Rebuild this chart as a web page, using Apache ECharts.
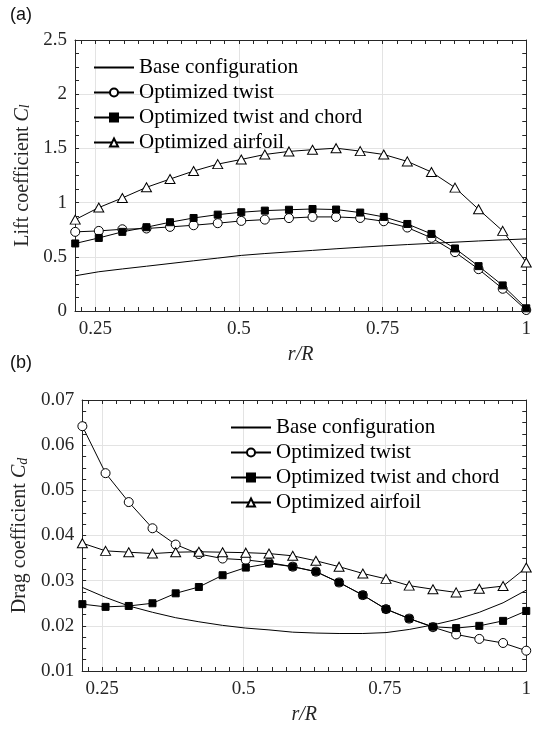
<!DOCTYPE html>
<html><head><meta charset="utf-8">
<script src="https://cdn.jsdelivr.net/npm/echarts@6/dist/echarts.min.js"></script>
<style>html,body{margin:0;padding:0;background:#fff}#c{width:534px;height:730px}</style>
</head><body><div id="c"></div><script>
// ---- data ----
const rR = [0.215, 0.256, 0.297, 0.339, 0.380, 0.421, 0.463, 0.504, 0.545, 0.587,
            0.628, 0.669, 0.711, 0.752, 0.793, 0.835, 0.876, 0.917, 0.959, 1.0];
const seriesNames = ['Base configuration', 'Optimized twist', 'Optimized twist and chord', 'Optimized airfoil'];
// Lift coefficient
const clBase    = [0.325, 0.362, 0.388, 0.413, 0.438, 0.463, 0.488, 0.513, 0.530, 0.545,
                   0.559, 0.574, 0.588, 0.601, 0.613, 0.624, 0.635, 0.646, 0.656, 0.665];
const clTwist   = [0.730, 0.739, 0.754, 0.761, 0.776, 0.791, 0.810, 0.831, 0.843, 0.857,
                   0.868, 0.868, 0.858, 0.828, 0.770, 0.675, 0.543, 0.386, 0.205, 0.009];
const clChord   = [0.623, 0.674, 0.730, 0.773, 0.819, 0.858, 0.889, 0.911, 0.926, 0.934,
                   0.941, 0.936, 0.908, 0.868, 0.803, 0.711, 0.577, 0.414, 0.236, 0.025];
const clAirfoil = [0.843, 0.954, 1.043, 1.141, 1.217, 1.291, 1.355, 1.398, 1.444, 1.472,
                   1.488, 1.502, 1.475, 1.444, 1.380, 1.282, 1.138, 0.938, 0.739, 0.448];
// Drag coefficient
const cdBase    = [0.0285, 0.0263, 0.0244, 0.0230, 0.0218, 0.0209, 0.0201, 0.0195, 0.0191, 0.0186,
                   0.0184, 0.0183, 0.0183, 0.0185, 0.0192, 0.0202, 0.0214, 0.0230, 0.0251, 0.0279];
const cdTwist   = [0.0642, 0.0538, 0.0474, 0.0416, 0.0380, 0.0359, 0.0349, 0.0346, 0.0340, 0.0331,
                   0.0320, 0.0296, 0.0268, 0.0237, 0.0216, 0.0197, 0.0181, 0.0171, 0.0162, 0.0145];
const cdChord   = [0.0248, 0.0242, 0.0244, 0.0250, 0.0272, 0.0286, 0.0312, 0.0329, 0.0338, 0.0331,
                   0.0320, 0.0296, 0.0268, 0.0237, 0.0216, 0.0198, 0.0195, 0.0200, 0.0211, 0.0233];
const cdAirfoil = [0.0383, 0.0366, 0.0363, 0.0360, 0.0363, 0.0364, 0.0363, 0.0362, 0.0360, 0.0355,
                   0.0344, 0.0331, 0.0316, 0.0304, 0.0289, 0.0281, 0.0274, 0.0282, 0.0288, 0.0329];
// ticks
const xTickLabels = [0.25, 0.5, 0.75, 1];
const xMinorTicks = [];
for (let k = 9; k <= 40; k++) xMinorTicks.push(+(k * 0.025).toFixed(3));
const X_MIN = 0.2146, X_MAX = 1;

// ---- style ----
const AX = '#262626';
const TK = '#262626';
const TL = 4;
const GRIDC = '#e3e3e3';
const SERIF = 'Liberation Serif';

const chart = echarts.init(document.getElementById('c'), null, {renderer: 'canvas'});

function xAxes(gi) {
  const base = {gridIndex: gi, type: 'value', min: X_MIN, max: X_MAX};
  return [
    Object.assign({}, base, {
      position: 'bottom',
      axisLine: {show: true, onZero: false, lineStyle: {color: AX, width: 1}},
      axisTick: {show: false, customValues: xTickLabels},
      axisLabel: {customValues: xTickLabels, fontFamily: SERIF, fontSize: 19, color: AX, margin: 9},
      splitLine: {show: true, lineStyle: {color: GRIDC, width: 1}},
      name: 'r/R', nameLocation: 'middle', nameGap: 34,
      nameTextStyle: {fontFamily: SERIF, fontSize: 20, fontStyle: 'italic', color: AX}
    }),
    Object.assign({}, base, {
      position: 'bottom',
      axisLine: {show: false, onZero: false},
      axisTick: {show: true, inside: true, length: TL, customValues: xMinorTicks, lineStyle: {color: TK}},
      axisLabel: {show: false},
      splitLine: {show: false}
    }),
    Object.assign({}, base, {
      position: 'top',
      axisLine: {show: true, onZero: false, lineStyle: {color: AX, width: 1}},
      axisTick: {show: true, inside: true, length: TL, customValues: xMinorTicks, lineStyle: {color: TK}},
      axisLabel: {show: false},
      splitLine: {show: false}
    })
  ];
}

function yAxes(gi, min, max, interval, name) {
  const base = {gridIndex: gi, type: 'value', min: min, max: max, interval: interval};
  return [
    Object.assign({}, base, {
      position: 'left',
      axisLine: {show: true, onZero: false, lineStyle: {color: AX, width: 1}},
      axisTick: {show: true, inside: true, length: TL, lineStyle: {color: TK}},
      minorTick: {show: true, splitNumber: 4, length: TL, lineStyle: {color: TK}},
      splitLine: {show: true, lineStyle: {color: GRIDC, width: 1}},
      axisLabel: {fontFamily: SERIF, fontSize: 19, color: AX, margin: 8},
      name: name, nameLocation: 'middle', nameGap: 36,
      nameTextStyle: {
        fontFamily: SERIF, fontSize: 20, color: AX,
        rich: {
          c: {fontFamily: SERIF, fontSize: 20, fontStyle: 'italic', color: AX},
          s: {fontFamily: SERIF, fontSize: 14, fontStyle: 'italic', color: AX, verticalAlign: 'bottom', lineHeight: 14, padding: [8, 0, 0, 0]}
        }
      }
    }),
    Object.assign({}, base, {
      position: 'right',
      axisLine: {show: true, onZero: false, lineStyle: {color: AX, width: 1}},
      axisTick: {show: true, inside: true, length: TL, lineStyle: {color: TK}},
      minorTick: {show: true, splitNumber: 4, length: TL, lineStyle: {color: TK}},
      splitLine: {show: false},
      axisLabel: {show: false}
    })
  ];
}

const styles = [
  {symbol: 'none', showSymbol: false, itemStyle: {color: 'rgba(0,0,0,0)', borderColor: 'rgba(0,0,0,0)', borderWidth: 0}},
  {symbol: 'circle', symbolSize: 9, itemStyle: {color: '#fff', borderColor: '#000', borderWidth: 1}},
  {symbol: 'rect', symbolSize: 7, itemStyle: {color: '#000', borderColor: '#000', borderWidth: 1}},
  {symbol: 'triangle', symbolSize: [10, 9], itemStyle: {color: '#fff', borderColor: '#000', borderWidth: 1}}
];

function mkSeries(gi, arrays) {
  return arrays.map((ys, k) => Object.assign({
    type: 'line', name: seriesNames[k],
    xAxisIndex: gi * 3, yAxisIndex: gi * 2,
    data: rR.map((x, i) => [x, ys[i]]),
    clip: false, animation: false, z: 3 + k,
    lineStyle: {color: '#000', width: 1},
    emphasis: {disabled: true}
  }, styles[k]));
}

function legend(left, top) {
  return {
    data: seriesNames, orient: 'vertical', left: left, top: top, padding: 0,
    itemWidth: 40, itemHeight: 10, itemGap: 4,
    selectedMode: false,
    textStyle: {fontFamily: SERIF, fontSize: 21, color: '#000', lineHeight: 21}
  };
}

chart.setOption({
  animation: false,
  backgroundColor: '#fff',
  grid: [
    {left: 75, right: 2, top: 40, height: 271},
    {left: 75, right: 2, top: 400, height: 271}
  ],
  xAxis: xAxes(0).concat(xAxes(1)),
  yAxis: yAxes(0, 0, 2.5, 0.5, 'Lift coefficient {c|C}{s|l}')
    .concat(yAxes(1, 0.01, 0.07, 0.01, 'Drag coefficient {c|C}{s|d}')),
  legend: [legend(93, 57), legend(230, 417)],
  series: mkSeries(0, [clBase, clTwist, clChord, clAirfoil])
    .concat(mkSeries(1, [cdBase, cdTwist, cdChord, cdAirfoil])),
  graphic: [
    {type: 'text', left: 10, top: 6, style: {text: '(a)', fontFamily: 'Liberation Sans', fontSize: 18, fill: '#111'}},
    {type: 'text', left: 10, top: 354, style: {text: '(b)', fontFamily: 'Liberation Sans', fontSize: 18, fill: '#111'}}
  ]
});
</script></body></html>
